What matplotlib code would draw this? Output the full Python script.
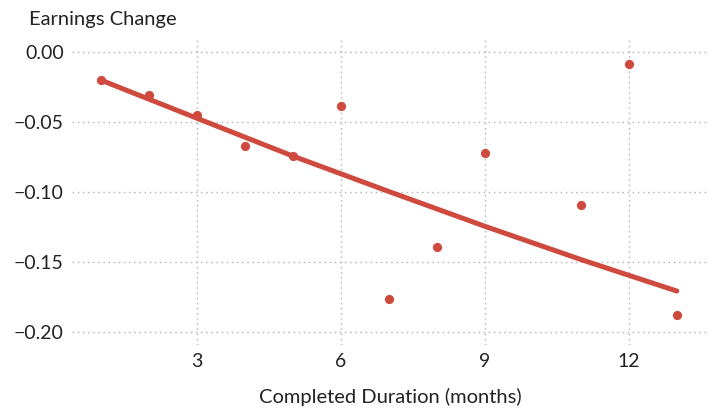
import matplotlib
matplotlib.use("Agg")
import matplotlib.pyplot as plt

# Data
duration = [1, 2, 3, 4, 5, 6, 7, 8, 9, 11, 12, 13]
earnings_change = [-0.020, -0.031, -0.045, -0.0667, -0.074, -0.0388,
                   -0.1764, -0.1388, -0.0717, -0.1088, -0.0083, -0.1874]
fit_x = [1, 3, 5, 7, 9, 11, 12, 13]
fit_y = [-0.0200, -0.0472, -0.0742, -0.0995, -0.1243, -0.1480, -0.1593, -0.1705]
x_ticks = [3, 6, 9, 12]
y_ticks = [0.00, -0.05, -0.10, -0.15, -0.20]

plt.rcParams['font.family'] = ['Lato', 'DejaVu Sans']
red = '#cf4a3e'
text_col = '#222222'

fig = plt.figure(figsize=(7.15, 4.08), dpi=100)
ax = fig.add_axes([72/715, 1 - 345/408, (708-72)/715, (345-38)/408])

ax.plot(fit_x, fit_y, color=red, lw=3.6, solid_capstyle='round',
        solid_joinstyle='round', zorder=3)
ax.scatter(duration, earnings_change, s=44, color=red, zorder=4, linewidths=0)

ax.set_xlim(0.4, 13.65)
ax.set_ylim(-0.209, 0.010)
ax.set_xticks(x_ticks)
ax.set_yticks(y_ticks)
ax.set_yticklabels([f"{v:.2f}".replace('-', '\u2212') for v in y_ticks])
ax.tick_params(length=0, labelsize=14, colors=text_col, pad=6)
for s in ax.spines.values():
    s.set_visible(False)
ax.grid(True, color='#bbbbbb', linestyle=(0, (1.2, 2.5)), linewidth=1)
ax.set_axisbelow(True)

ax.set_xlabel('Completed Duration (months)', fontsize=14.5, color=text_col, labelpad=13)
fig.text(29/715, 1 - 20/408, 'Earnings Change', fontsize=14.5, color=text_col,
         va='center', ha='left')

fig.savefig('out.png', dpi=100)
